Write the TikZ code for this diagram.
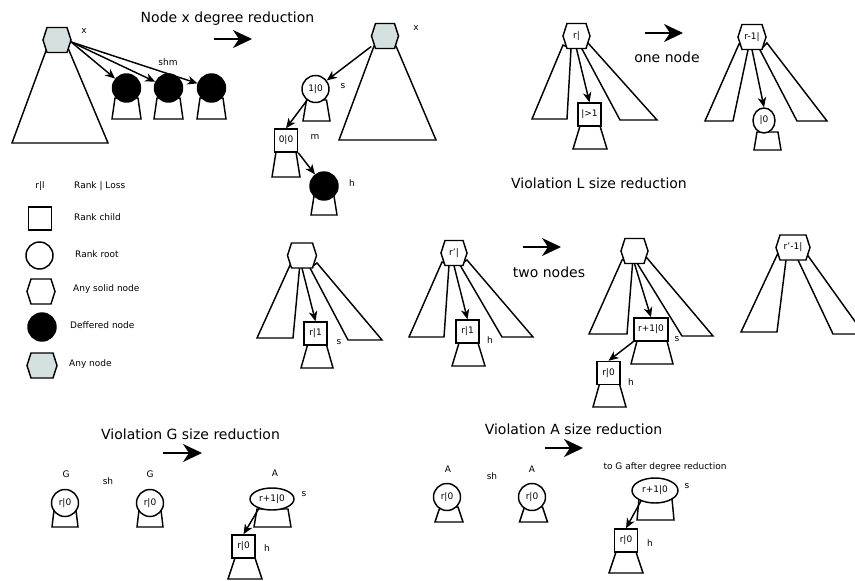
\documentclass[tikz,border=0pt]{standalone}
\usepackage{fontspec}
\setmainfont{DejaVu Sans}
\usetikzlibrary{arrows.meta,shapes.geometric}
\definecolor{hexgray}{RGB}{213,225,224}
% hexagon: name, x, y, fill, text, width
\newcommand{\hexa}[6]{%
  \path[shp, fill=#4] (#2-#6/2+4,#3-12.5) -- (#2+#6/2-4,#3-12.5) -- (#2+#6/2,#3)
     -- (#2+#6/2-4,#3+12.5) -- (#2-#6/2+4,#3+12.5) -- (#2-#6/2,#3) -- cycle;
  \node[hexbox, minimum width=#6pt] (#1) at (#2,#3) {#5};}
% subtree trapezoid: cx, ytop, ybot, half top, half bottom
\newcommand{\subtr}[5]{%
  \path[shp] (#1-#4,#2) -- (#1+#4,#2) -- (#1+#5,#3) -- (#1-#5,#3) -- cycle;}
\begin{document}
\begin{tikzpicture}[x=1pt,y=-1pt,
  every node/.style={font=\fontsize{9}{10}\selectfont, inner sep=0pt},
  ln/.style={line width=1.45pt, line join=miter},
  shp/.style={ln, draw=black, fill=white},
  arr/.style={ln, -{Stealth[length=10pt,width=8.5pt,inset=3pt]}},
  bigarr/.style={ln, -{Stealth[length=19pt,width=18pt,inset=6pt]}},
  circ/.style={shp, circle, minimum size=27pt},
  dcirc/.style={circ, fill=black, minimum size=28pt},
  sqn/.style={shp, rectangle, minimum width=23pt, minimum height=23pt},
  elln/.style={shp, ellipse, minimum width=44pt, minimum height=22pt},
  ttl/.style={font=\fontsize{14}{16}\selectfont},
  hexbox/.style={rectangle, minimum height=25pt},
]
\useasboundingbox (0,0) rectangle (855,581);

% ---------- fans (behind) ----------
\path[shp] (47,48) -- (12,143) -- (108,143) -- (68,48) -- cycle;
\path[shp] (374,46) -- (339,140) -- (436,140) -- (396,46) -- cycle;
\path[shp] (563,45) -- (532,119) -- (567,119) -- (571,49) -- cycle;
\path[shp] (582,49) -- (620,120) -- (657,120) -- (588,43) -- cycle;
\path[shp] (739,44) -- (705,121) -- (733,121) -- (748,50) -- cycle;
\path[shp] (760,50) -- (797,121) -- (827,121) -- (767,43) -- cycle;
\path[shp] (291,263) -- (257,338) -- (293,338) -- (300,263) -- cycle;
\path[shp] (310,268) -- (348,340) -- (382,340) -- (317,263) -- cycle;
\path[shp] (442,262) -- (409,337) -- (444,337) -- (449,265) -- cycle;
\path[shp] (460,265) -- (502,337) -- (533,337) -- (467,260) -- cycle;
\path[shp] (622,260) -- (589,334) -- (627,334) -- (633,258) -- cycle;
\path[shp] (637,263) -- (682,336) -- (713,336) -- (647,258) -- cycle;
\path[shp] (778,253) -- (741,332) -- (777,332) -- (786,260) -- cycle;
\path[shp] (798,260) -- (833,334) -- (864,334) -- (806,253) -- cycle;

% ---------- hexagons ----------
\hexa{H1}{57}{40}{hexgray}{}{28}
\hexa{H2}{385}{36}{hexgray}{}{27}
\hexa{H3}{576.5}{36}{white}{r|}{27}
\hexa{H4}{752}{37}{white}{r-1|}{28}
\hexa{H5}{302}{255.5}{white}{}{29}
\hexa{H6}{454}{253}{white}{r'|}{26}
\hexa{H7}{634.5}{251}{white}{}{27}
\hexa{H8}{793}{247.5}{white}{r'-1|}{34}
\hexa{LH1}{41}{291.5}{white}{}{28}
\hexa{LH2}{42}{365.5}{hexgray}{}{30}

% ---------- subtrees ----------
\subtr{126.5}{98}{119}{11.5}{14.5}
\subtr{168.5}{98}{119}{11.5}{14.5}
\subtr{211.5}{98}{119}{11.5}{14.5}
\subtr{316.5}{100}{121}{10}{13.5}
\subtr{286}{152}{177}{10}{14}
\subtr{324}{196}{215}{10}{13}
\subtr{590}{126}{149}{10}{17}
\subtr{767.5}{132}{150}{10.5}{13.5}
\subtr{317}{345}{368}{9.5}{16}
\subtr{468.5}{343}{366}{9.5}{16.5}
\subtr{652}{341}{364}{15}{21}
\subtr{609.5}{384}{407}{10}{16.5}
\subtr{65}{510}{527}{11}{13}
\subtr{150}{510}{527}{11}{13}
\subtr{272.5}{509}{527}{15.5}{18.5}
\subtr{245}{558}{579}{10}{17}
\subtr{449}{507}{522}{9}{14}
\subtr{533.5}{507}{522}{9}{14}
\subtr{655.5}{499}{520}{16.5}{18.5}
\subtr{626}{552}{573}{10}{17}

% ---------- nodes ----------
\node[dcirc] (C1) at (126.5,88) {};
\node[dcirc] (C2) at (168.5,88) {};
\node[dcirc] (C3) at (211.5,88) {};
\node[circ] (S2) at (315.5,89) {1|0};
\node[sqn, minimum height=23pt] (M2) at (286,140.5) {0|0};
\node[dcirc] (K2) at (324,186) {};
\node[sqn] (Q3) at (589.5,114.5) {|>1};
\node[shp, ellipse, minimum width=22pt, minimum height=25pt] (E4) at (764,120.5) {|0};
\node[sqn] (Q5) at (315.5,333.5) {r|1};
\node[sqn] (Q6) at (467.5,331.5) {r|1};
\node[sqn, minimum width=34pt] (Q7) at (651,329.5) {r+1|0};
\node[sqn] (Q8) at (608.5,373) {r|0};
\node[circ] (G1) at (65,503) {r|0};
\node[circ] (G2) at (150,503) {r|0};
\node[elln] (EA) at (272,499) {r+1|0};
\node[sqn] (QA) at (243.5,546.5) {r|0};
\node[circ] (A1) at (447,497) {r|0};
\node[circ] (A2) at (532,497) {r|0};
\node[elln, minimum width=46pt, minimum height=25pt] (EB) at (655,490.5) {r+1|0};
\node[sqn] (QB) at (626,540.5) {r|0};

% legend shapes
\node[sqn, minimum height=23pt] (LS) at (40,218.5) {};
\node[circ] (LC) at (39.5,255.5) {};
\node[dcirc] (LD) at (42,327) {};

% ---------- arrows ----------
\draw[arr] ([yshift=-2pt]H1.east) -- (C1);
\draw[arr] ([yshift=-2pt]H1.east) -- (C2);
\draw[arr] ([yshift=-2pt]H1.east) -- (C3);
\draw[arr] (H2) -- (S2);
\draw[arr] (S2) -- (M2.north);
\draw[arr] (M2.south east) -- (K2);
\draw[arr] (H3.south) -- (Q3.north);
\draw[arr] (H4.south) -- (E4.north);
\draw[arr] (H5.south) -- (Q5.north);
\draw[arr] (H6.south) -- (Q6.north);
\draw[arr] (H7.south) -- (Q7.north);
\draw[arr] (Q7.south west) -- (Q8.north);
\draw[arr] (EA.216) -- (QA.north);
\draw[arr] (EB.217) -- (QB.north);

% big arrows
\coordinate (B1s) at (214,39);  \coordinate (B1e) at (252,39);
\coordinate (B2s) at (645,33);  \coordinate (B2e) at (683,33);
\coordinate (B3s) at (523,247); \coordinate (B3e) at (561,247);
\coordinate (B4s) at (163,453); \coordinate (B4e) at (202,453);
\coordinate (B5s) at (545,448); \coordinate (B5e) at (583,448);
\draw[bigarr] (B1s) -- (B1e);
\draw[bigarr] (B2s) -- (B2e);
\draw[bigarr] (B3s) -- (B3e);
\draw[bigarr] (B4s) -- (B4e);
\draw[bigarr] (B5s) -- (B5e);

% ---------- titles ----------
\node[ttl] (T1) at (227.5,19) {Node x degree reduction};
\node[ttl] (T2) at (599,183) {Violation L size reduction};
\node[ttl] (T3) at (190.5,434) {Violation G size reduction};
\node[ttl] (T4) at (573.5,429) {Violation A size reduction};
\node[ttl] (T5) at (667,57) {one node};
\node[ttl] (T6) at (549,272) {two nodes};

% ---------- labels ----------
\node (x1) at (84,31) {x};
\node (shm) at (168,62) {shm};
\node (x2) at (416,28) {x};
\node (ls2) at (343,86) {s};
\node (lm2) at (315,137) {m};
\node (lh2) at (352,183) {h};
\node (ls5) at (339,342) {s};
\node (lh6) at (490,340) {h};
\node (ls7) at (677,339) {s};
\node (lh8) at (631,382) {h};
\node (lG1) at (66,474) {G};
\node (lsh1) at (108,481) {sh};
\node (lG2) at (150,474) {G};
\node (lA0) at (275,473) {A};
\node (lsA) at (304,494) {s};
\node (lhA) at (267,548) {h};
\node (lA1) at (448,469) {A};
\node (lsh2) at (492,476) {sh};
\node (lA2) at (532,469) {A};
\node (ltoG) at (665,467) {to G after degree reduction};
\node (lsB) at (687,486) {s};
\node (lhB) at (650,543) {h};

% legend texts
\node (Lrl) at (40,186) {r|l};
\node[anchor=west] (Lt1) at (74,186) {Rank | Loss};
\node[anchor=west] (Lt2) at (74,217) {Rank child};
\node[anchor=west] (Lt3) at (75,254) {Rank root};
\node[anchor=west] (Lt4) at (73,289) {Any solid node};
\node[anchor=west] (Lt5) at (70,325) {Deffered node};
\node[anchor=west] (Lt6) at (69,364) {Any node};
\end{tikzpicture}
\end{document}
